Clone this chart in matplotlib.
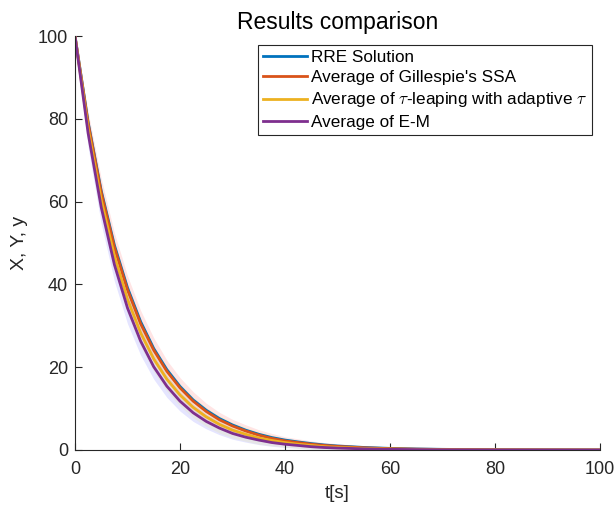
import matplotlib
matplotlib.use("Agg")
import matplotlib.pyplot as plt
import numpy as np

plt.rcParams['font.family'] = ['Liberation Sans', 'DejaVu Sans']
plt.rcParams['mathtext.fontset'] = 'cm'

# time grid [s]
t = [0, 2.5, 5, 7.5, 10, 12.5, 15, 17.5, 20, 22.5, 25, 27.5, 30, 32.5, 35,
     37.5, 40, 42.5, 45, 47.5, 50, 55, 60, 65, 70, 80, 90, 100]

rre = [100, 79.2, 62.6, 49.5, 39.2, 31.0, 24.5, 19.4, 15.35, 12.1, 9.6, 7.6,
       6.05, 4.8, 3.8, 3.0, 2.4, 1.95, 1.55, 1.22, 0.97, 0.62, 0.39, 0.25,
       0.16, 0.06, 0.03, 0.01]
ssa = [100, 78.9, 62.2, 49.0, 38.7, 30.5, 24.1, 19.0, 15.0, 11.8, 9.3, 7.3,
       5.8, 4.6, 3.6, 2.8, 2.2, 1.8, 1.4, 1.1, 0.87, 0.54, 0.33, 0.21, 0.13,
       0.05, 0.02, 0.01]
tau = [100, 77.7, 60.4, 46.9, 36.4, 28.3, 22.0, 17.1, 13.3, 10.3, 8.0, 6.2,
       4.8, 3.8, 2.9, 2.3, 1.8, 1.4, 1.1, 0.8, 0.64, 0.39, 0.23, 0.14, 0.08,
       0.03, 0.01, 0.0]
em = [100, 76.5, 58.6, 44.8, 34.3, 26.3, 20.1, 15.4, 11.8, 9.0, 6.9, 5.3,
      4.0, 3.1, 2.4, 1.8, 1.4, 1.1, 0.8, 0.6, 0.47, 0.28, 0.16, 0.10, 0.06,
      0.02, 0.01, 0.0]

ssa_std = [0, 2.8, 3.4, 3.5, 3.4, 3.2, 3.0, 2.7, 2.5, 2.3, 2.0, 1.8, 1.6, 1.5,
           1.3, 1.2, 1.0, 0.9, 0.8, 0.7, 0.65, 0.5, 0.4, 0.3, 0.25, 0.16, 0.1,
           0.07]
tau_std = [0, 2.6, 3.2, 3.4, 3.4, 3.3, 3.1, 2.9, 2.7, 2.5, 2.3, 2.1, 1.9, 1.7,
           1.5, 1.3, 1.1, 1.0, 0.9, 0.8, 0.7, 0.5, 0.35, 0.25, 0.18, 0.1, 0.05,
           0.03]
em_std = [0, 3.4, 4.0, 4.0, 3.8, 3.4, 3.0, 2.7, 2.4, 2.1, 1.8, 1.6, 1.4, 1.2,
          1.1, 0.9, 0.8, 0.7, 0.6, 0.5, 0.45, 0.35, 0.25, 0.18, 0.12, 0.06,
          0.03, 0.02]

labels = ['RRE Solution', "Average of Gillespie's SSA",
          r'Average of $\tau$-leaping with adaptive $\tau$', 'Average of E-M']
colors = ['#0072BD', '#D95319', '#EDB120', '#7E2F8E']
band_colors = ['#FF0000', '#FFFF00', '#0000FF']

tt = np.array(t)
fig = plt.figure(figsize=(6.16, 5.05), dpi=100)
ax = fig.add_axes([75/616, 55/505, 525/616, 414/505])

for mean, sd, bc in [(ssa, ssa_std, band_colors[0]), (tau, tau_std, band_colors[1]),
                     (em, em_std, band_colors[2])]:
    m = np.array(mean)
    s = np.array(sd)
    ax.fill_between(tt, m - s, m + s, color=bc, alpha=0.1, linewidth=0)

for y, c, lab in zip([rre, ssa, tau, em], colors, labels):
    ax.plot(tt, y, color=c, lw=2.0, label=lab)

ax.set_xlim(0, 100)
ax.set_ylim(0, 100)
ax.set_xticks([0, 20, 40, 60, 80, 100])
ax.set_yticks([0, 20, 40, 60, 80, 100])
for sp in ['top', 'right']:
    ax.spines[sp].set_visible(False)
for sp in ['left', 'bottom']:
    ax.spines[sp].set_color('#262626')
    ax.spines[sp].set_linewidth(0.8)
ax.tick_params(direction='in', length=5, width=0.8, colors='#262626',
               labelsize=13)
ax.tick_params(axis='x', pad=8)
ax.tick_params(axis='y', pad=5)
ax.set_xlabel('t[s]', fontsize=13.5, color='#262626', labelpad=5)
ax.set_ylabel('X, Y, y', fontsize=14, color='#262626', labelpad=7)
ax.set_title('Results comparison', fontsize=16.5, color='black', pad=5)

leg = ax.legend(loc='upper right', bbox_to_anchor=(0.985, 0.978),
                borderaxespad=0, fontsize=12.3, handlelength=2.6,
                handletextpad=0.2, labelspacing=0.3, borderpad=0.3,
                fancybox=False, framealpha=1)
leg.get_frame().set_edgecolor('#262626')
leg.get_frame().set_linewidth(0.8)

fig.savefig('out.png', dpi=100)
